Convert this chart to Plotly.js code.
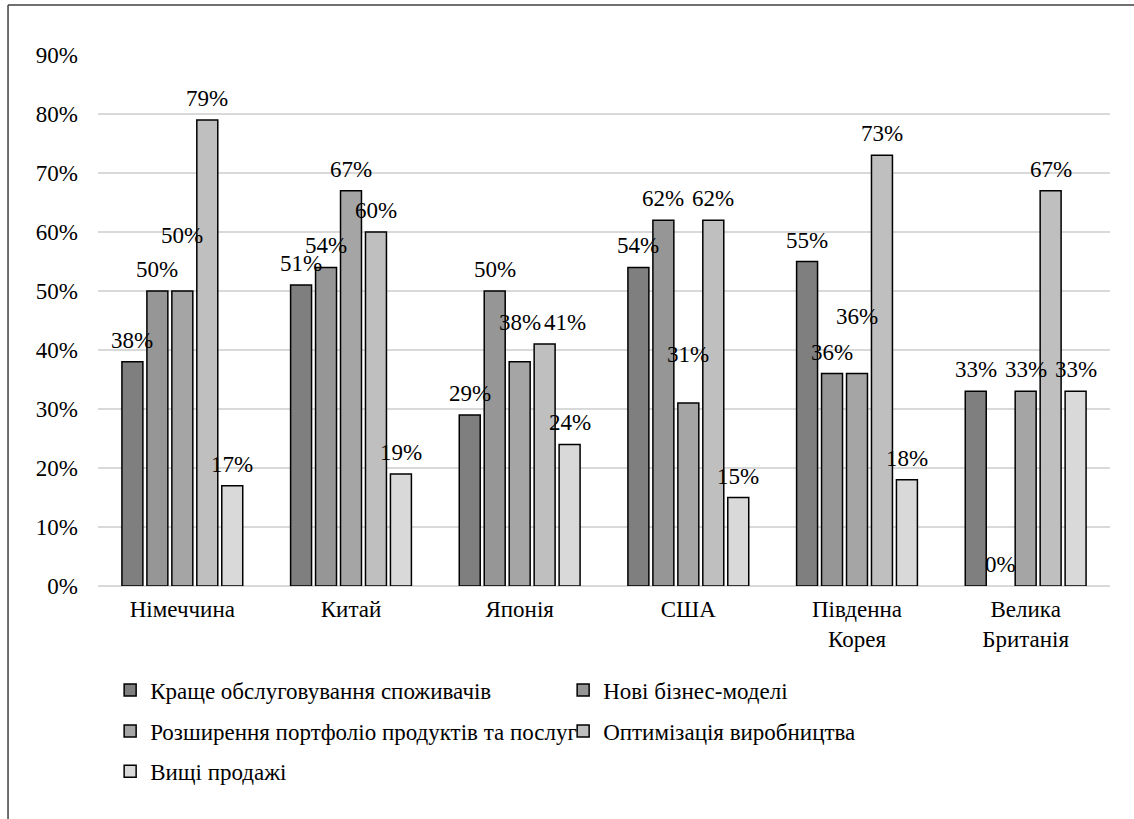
<!DOCTYPE html>
<html>
<head>
<meta charset="utf-8">
<script src="https://cdn.plot.ly/plotly-3.0.1.min.js"></script>
<style>
html,body{margin:0;padding:0;background:#fff;}
#chart{width:1134px;height:819px;}
</style>
</head>
<body>
<div id="chart"></div>
<script>
const categories = ["Німеччина", "Китай", "Японія", "США", "Південна<br>Корея", "Велика<br>Британія"];
const seriesNames = [
  "Краще обслуговування споживачів",
  "Нові бізнес-моделі",
  "Розширення портфоліо продуктів та послуг",
  "Оптимізація виробництва",
  "Вищі продажі"
];
const betterService = [0.38, 0.51, 0.29, 0.54, 0.55, 0.33];
const newModels     = [0.50, 0.54, 0.50, 0.62, 0.36, 0.00];
const portfolio     = [0.50, 0.67, 0.38, 0.31, 0.36, 0.33];
const optimization  = [0.79, 0.60, 0.41, 0.62, 0.73, 0.67];
const higherSales   = [0.17, 0.19, 0.24, 0.15, 0.18, 0.33];
const yTickVals = [0, 0.1, 0.2, 0.3, 0.4, 0.5, 0.6, 0.7, 0.8, 0.9];

// style: nudges (px) of a few data labels that were moved by hand in the original
const labelLift = {"2-0": 34, "2-2": 18, "2-3": 27, "2-4": 36};
const labelSide = {"3-2": 20};

const seriesValues = [betterService, newModels, portfolio, optimization, higherSales];
const colors = ["#7f7f7f", "#969696", "#a5a5a5", "#bfbfbf", "#d9d9d9"];
const legendIds = ["legend", "legend", "legend2", "legend2", "legend3"];
const FONT = "Liberation Serif";
const BIG = 23;
const BARGAP = 0.26;
const nSeries = seriesValues.length;
const slot = (1 - BARGAP) / nSeries;

const traces = seriesValues.map((vals, i) => ({
  type: "bar",
  name: seriesNames[i],
  x: categories,
  y: vals,
  legend: legendIds[i],
  marker: {color: colors[i], line: {color: "#000", width: vals.map(v => v > 0 ? 1.5 : 0)}},
  hoverinfo: "skip"
}));

const annotations = [];
seriesValues.forEach((vals, i) => {
  vals.forEach((v, j) => {
    const key = i + "-" + j;
    annotations.push({
      xref: "x", yref: "y",
      x: j + (i - (nSeries - 1) / 2) * slot,
      y: v,
      text: Math.round(v * 100) + "%",
      showarrow: false,
      yanchor: "bottom",
      yshift: 7 + (labelLift[key] || 0),
      xshift: labelSide[key] || 0,
      font: {family: FONT, size: BIG, color: "#000"}
    });
  });
});

const legendBase = {
  orientation: "h",
  x: 0.012, xanchor: "left",
  yanchor: "middle",
  entrywidth: 408, entrywidthmode: "pixels",
  font: {family: FONT, size: BIG, color: "#000"},
  bgcolor: "rgba(0,0,0,0)",
  itemclick: false
};

const layout = {
  width: 1134, height: 819,
  margin: {l: 98, r: 24, t: 55, b: 233},
  paper_bgcolor: "#fff",
  plot_bgcolor: "#fff",
  font: {family: FONT, size: BIG, color: "#000"},
  barmode: "group",
  bargap: BARGAP,
  bargroupgap: 0.16,
  showlegend: true,
  legend: Object.assign({}, legendBase, {y: -0.196}),
  legend2: Object.assign({}, legendBase, {y: -0.273}),
  legend3: Object.assign({}, legendBase, {y: -0.349}),
  annotations: annotations,
  xaxis: {
    type: "category",
    showline: false,
    showgrid: false,
    ticks: "",
    tickfont: {family: FONT, size: BIG, color: "#000"},
    ticklabelstandoff: 7
  },
  yaxis: {
    range: [0, 0.9],
    tickvals: yTickVals,
    tickformat: ".0%",
    showgrid: true,
    gridcolor: "#d9d9d9",
    gridwidth: 1.3,
    zeroline: true,
    zerolinecolor: "#d9d9d9",
    zerolinewidth: 1.3,
    showline: false,
    ticks: "",
    ticklabelstandoff: 19,
    tickfont: {family: FONT, size: BIG, color: "#000"}
  },
  shapes: [
    {type: "line", xref: "paper", yref: "paper", x0: -0.0889, x1: 1.03, y0: 1.094, y1: 1.094,
     line: {color: "#404040", width: 1.5}},
    {type: "line", xref: "paper", yref: "paper", x0: -0.0889, x1: -0.0889, y0: 1.094, y1: -0.45,
     line: {color: "#404040", width: 1.5}}
  ]
};

Plotly.newPlot("chart", traces, layout, {displayModeBar: false, staticPlot: true});
</script>
</body>
</html>
